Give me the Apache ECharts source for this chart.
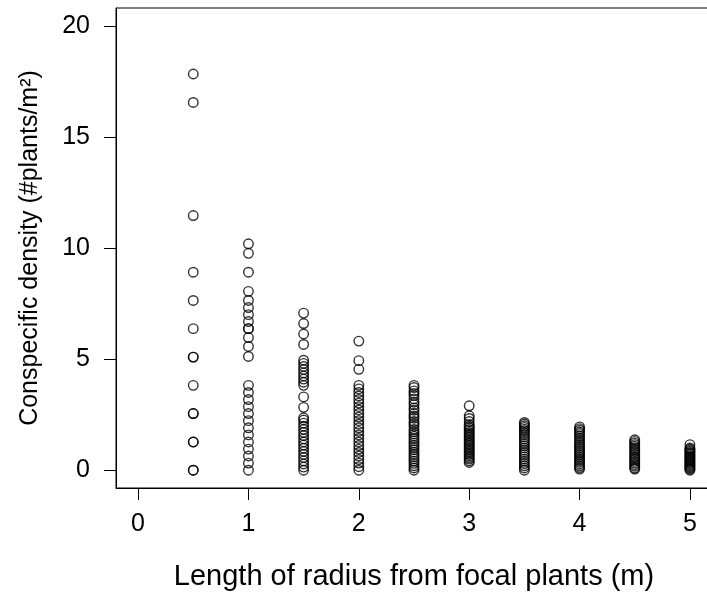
<!DOCTYPE html>
<html>
<head>
<meta charset="utf-8">
<script src="https://cdn.jsdelivr.net/npm/echarts@6/dist/echarts.min.js"></script>
<style>
  html, body { margin: 0; padding: 0; background: #fff; }
  #chart { width: 707px; height: 592px; }
</style>
</head>
<body>
<div id="chart"></div>
<script>
// Radius lengths (m) at which conspecific density was sampled
const radii = [0.5, 1, 1.5, 2, 2.5, 3, 3.5, 4, 4.5, 5];

// Conspecific density (#plants/m²) recorded at each radius
const density_r0_5 = [0, 0, 1.27, 1.27, 2.55, 2.55, 3.82, 5.09, 5.09, 6.37, 7.64, 8.91, 11.46, 16.55, 17.83];
const density_r1_0 = [0, 0.32, 0.64, 0.95, 1.27, 1.59, 1.91, 2.23, 2.55, 2.86, 3.18, 3.5, 3.82,
                      5.12, 5.57, 5.97, 6.37, 6.37, 6.69, 7.0, 7.32, 7.64, 8.05, 8.91, 9.76, 10.19];
const density_r1_5 = [0, 0.14, 0.28, 0.42, 0.57, 0.71, 0.85, 0.99, 1.13, 1.27, 1.41, 1.56, 1.7, 1.84,
                      1.98, 2.12, 2.26, 2.36, 2.83, 3.3, 3.82, 3.96, 4.1, 4.24, 4.38, 4.53, 4.67,
                      4.81, 4.95, 5.66, 6.13, 6.6, 7.07];
const density_r2_0 = [0, 0.16, 0.32, 0.48, 0.64, 0.8, 0.95, 1.11, 1.27, 1.43, 1.59, 1.75, 1.91, 2.07,
                      2.23, 2.39, 2.55, 2.71, 2.86, 3.02, 3.18, 3.34, 3.5, 3.66, 3.82, 4.54, 4.93, 5.81];
const density_r2_5 = [0, 0.1, 0.2, 0.31, 0.41, 0.51, 0.61, 0.71, 0.81, 0.92, 1.02, 1.12, 1.22, 1.32,
                      1.43, 1.53, 1.63, 1.73, 1.83, 1.98, 2.09, 2.19, 2.34, 2.44, 2.55, 2.7, 2.8,
                      2.95, 3.06, 3.21, 3.36, 3.46, 3.57, 3.72, 3.82];
const density_r3_0 = [0.35, 0.42, 0.5, 0.57, 0.64, 0.71, 0.78, 0.85, 0.92, 0.99, 1.06, 1.13, 1.2,
                      1.27, 1.34, 1.41, 1.49, 1.56, 1.63, 1.7, 1.77, 1.84, 1.91, 1.98, 2.05, 2.19,
                      2.33, 2.45, 2.9];
const density_r3_5 = [0, 0.1, 0.2, 0.3, 0.4, 0.5, 0.6, 0.7, 0.8, 0.9, 1.0, 1.1, 1.2, 1.3, 1.4, 1.5,
                      1.6, 1.7, 1.78, 1.85, 1.93, 2.0, 2.08, 2.15];
const density_r4_0 = [0.05, 0.12, 0.2, 0.28, 0.36, 0.44, 0.52, 0.6, 0.68, 0.76, 0.84, 0.92, 1.0,
                      1.08, 1.16, 1.25, 1.35, 1.45, 1.55, 1.65, 1.72, 1.8, 1.87, 1.95];
const density_r4_5 = [0.05, 0.1, 0.18, 0.25, 0.32, 0.4, 0.48, 0.55, 0.62, 0.7, 0.78, 0.85, 0.92,
                      1.0, 1.08, 1.15, 1.22, 1.3, 1.37];
const density_r5_0 = [0, 0.05, 0.1, 0.15, 0.2, 0.25, 0.3, 0.35, 0.4, 0.45, 0.5, 0.55, 0.6, 0.65,
                      0.7, 0.75, 0.8, 0.85, 0.9, 0.95, 1.0, 1.15];

// Tick labels for both axes
const xTicks = [0, 1, 2, 3, 4, 5];
const yTicks = [0, 5, 10, 15, 20];

const densityByRadius = [density_r0_5, density_r1_0, density_r1_5, density_r2_0, density_r2_5,
                         density_r3_0, density_r3_5, density_r4_0, density_r4_5, density_r5_0];

const points = [];
radii.forEach((r, i) => {
  densityByRadius[i].forEach(d => points.push([r, d]));
});

const FONT = '"Liberation Sans", Arial, Helvetica, sans-serif';

const chart = echarts.init(document.getElementById('chart'), null, { renderer: 'canvas' });
chart.setOption({
  backgroundColor: '#ffffff',
  animation: false,
  textStyle: { fontFamily: FONT },
  grid: {
    left: 116, right: -5, top: 8, bottom: 104,
    outerBoundsMode: 'none',
    containLabel: false,
    show: true, borderColor: '#000', borderWidth: 1, backgroundColor: 'transparent'
  },
  xAxis: {
    type: 'value',
    min: -0.2, max: 5.2,
    name: 'Length of radius from focal plants (m)',
    nameLocation: 'middle',
    nameGap: 74,
    nameTextStyle: { fontFamily: FONT, fontSize: 29, color: '#000' },
    axisLine: { show: true, onZero: false, lineStyle: { color: '#000', width: 1 } },
    axisTick: { show: true, length: 12, lineStyle: { color: '#000', width: 1 }, customValues: xTicks },
    axisLabel: { fontFamily: FONT, fontSize: 25, color: '#000', margin: 24, customValues: xTicks },
    splitLine: { show: false }
  },
  yAxis: {
    type: 'value',
    min: -0.8, max: 20.8,
    name: 'Conspecific density (#plants/m²)',
    nameLocation: 'middle',
    nameGap: 73,
    nameRotate: 90,
    nameTextStyle: { fontFamily: FONT, fontSize: 25, color: '#000' },
    axisLine: { show: true, onZero: false, lineStyle: { color: '#000', width: 1 } },
    axisTick: { show: true, length: 12, lineStyle: { color: '#000', width: 1 }, customValues: yTicks },
    axisLabel: { fontFamily: FONT, fontSize: 25, color: '#000', margin: 26, customValues: yTicks },
    splitLine: { show: false }
  },
  series: [{
    type: 'scatter',
    data: points,
    symbol: 'circle',
    symbolSize: 9.5,
    itemStyle: { color: 'rgba(0,0,0,0)', borderColor: '#000', borderWidth: 1.4 },
    emphasis: { disabled: true }
  }]
});
</script>
</body>
</html>
